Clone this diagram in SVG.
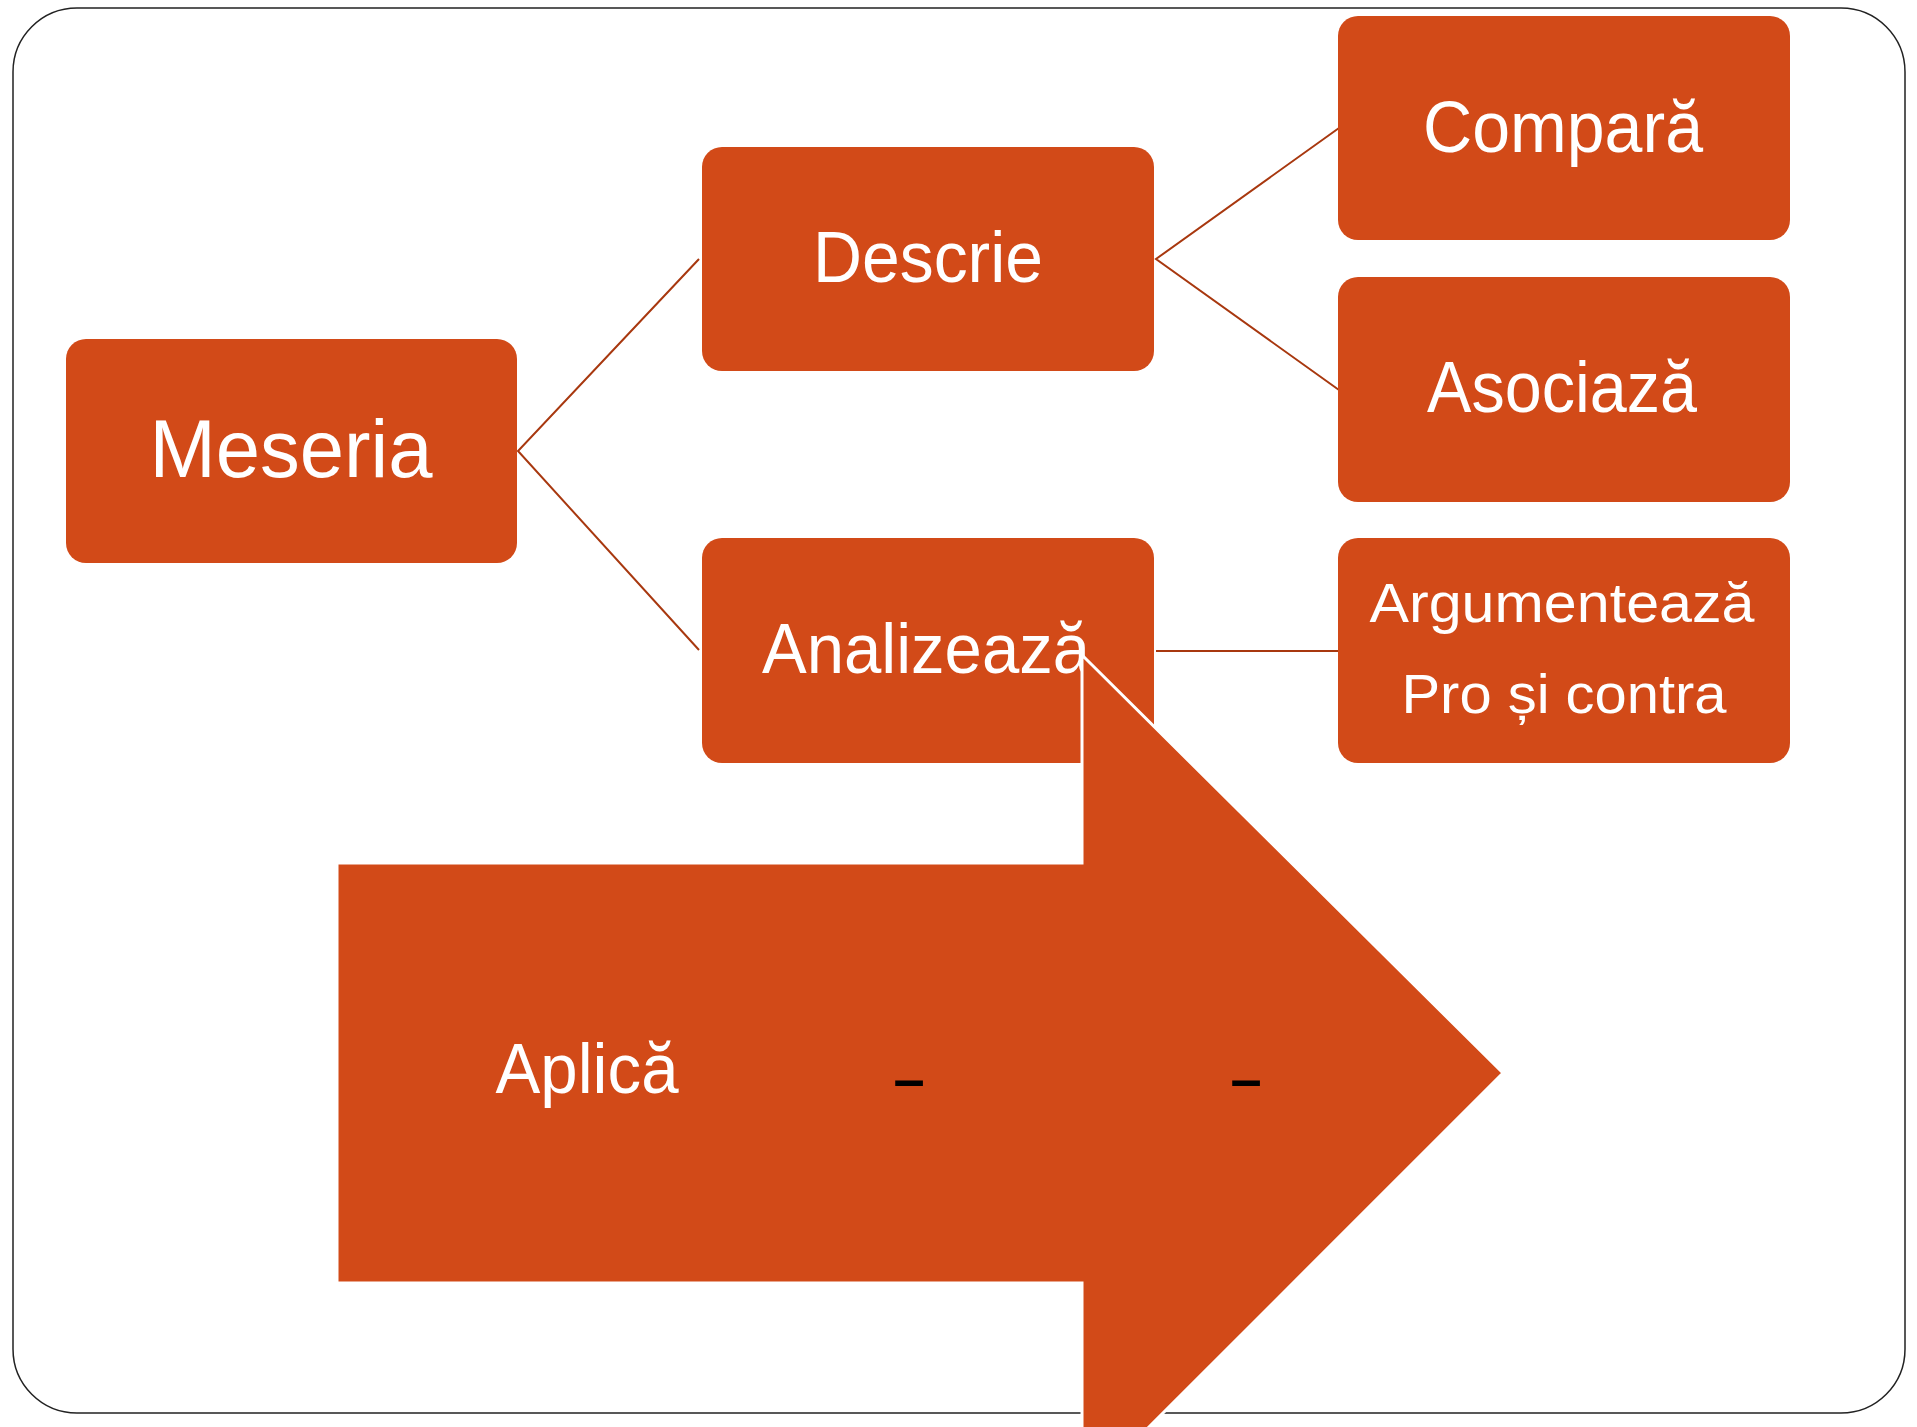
<svg xmlns="http://www.w3.org/2000/svg" width="1917" height="1427" viewBox="0 0 1917 1427">
<defs>
<style>
.box{fill:#D24A18;}
.lbl{fill:#FFFFFF;font-family:"Liberation Sans",Arial,sans-serif;text-anchor:middle;}
.conn{stroke:#A8380F;stroke-width:2;fill:none;}
.dash{fill:#000000;font-family:"Liberation Sans",Arial,sans-serif;font-weight:bold;text-anchor:middle;}
</style>
</defs>
<rect x="0" y="0" width="1917" height="1427" fill="#FFFFFF"/>
<rect id="frame" x="13" y="8" width="1892" height="1405" rx="64" ry="64" fill="none" stroke="#222222" stroke-width="1.5"/>
<g id="connectors">
<polyline class="conn" points="699,259 518,451 699,650"/>
<polyline class="conn" points="1339,128 1156,259 1339,390"/>
<line class="conn" x1="1156" y1="651" x2="1339" y2="651"/>
</g>
<g id="node-meseria">
<rect class="box" x="66" y="339" width="451" height="224" rx="20"/>
<text class="lbl" x="291" y="477" font-size="81" textLength="283" lengthAdjust="spacingAndGlyphs">Meseria</text>
</g>
<g id="node-descrie">
<rect class="box" x="702" y="147" width="452" height="224" rx="20"/>
<text class="lbl" x="928" y="282" font-size="72" textLength="230" lengthAdjust="spacingAndGlyphs">Descrie</text>
</g>
<g id="node-analizeaza">
<rect class="box" x="702" y="538" width="452" height="225" rx="20"/>
<text class="lbl" x="926" y="673" font-size="70" textLength="328" lengthAdjust="spacingAndGlyphs">Analizează</text>
</g>
<g id="node-compara">
<rect class="box" x="1338" y="16" width="452" height="224" rx="20"/>
<text class="lbl" x="1563" y="152" font-size="72" textLength="280" lengthAdjust="spacingAndGlyphs">Compară</text>
</g>
<g id="node-asociaza">
<rect class="box" x="1338" y="277" width="452" height="225" rx="20"/>
<text class="lbl" x="1562" y="412" font-size="72" textLength="270" lengthAdjust="spacingAndGlyphs">Asociază</text>
</g>
<g id="node-argumenteaza">
<rect class="box" x="1338" y="538" width="452" height="225" rx="20"/>
<text class="lbl" x="1562" y="622" font-size="56" textLength="385" lengthAdjust="spacingAndGlyphs">Argumentează</text>
<text class="lbl" x="1564" y="713" font-size="56" textLength="325" lengthAdjust="spacingAndGlyphs">Pro și contra</text>
</g>
<g id="node-aplica">
<path d="M337,863 H1082 V655 L1503,1073 L1082,1494 V1283 H337 Z" fill="#D24A18" stroke="#FFFFFF" stroke-width="3"/>
<text class="lbl" x="587" y="1093" font-size="70" textLength="183" lengthAdjust="spacingAndGlyphs">Aplică</text>
<text class="dash" x="909" y="1098" font-size="56">–</text>
<text class="dash" x="1246" y="1098" font-size="56">–</text>
</g>
</svg>
